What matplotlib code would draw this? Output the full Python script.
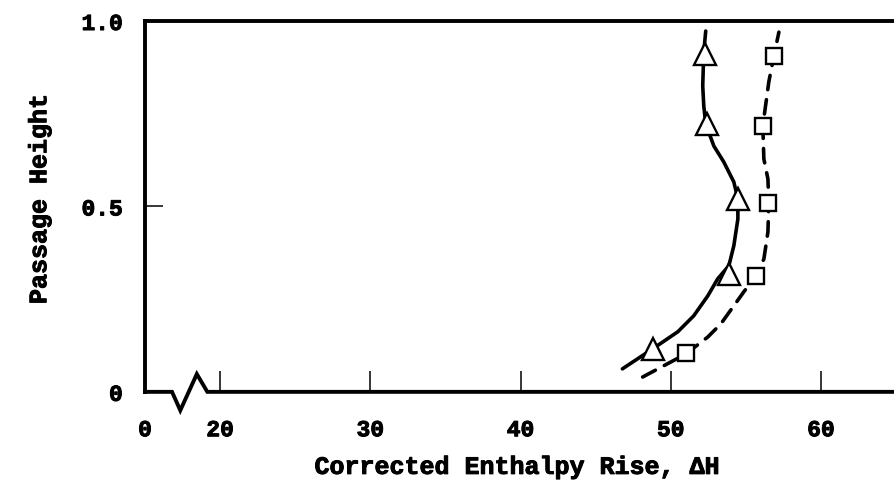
import numpy as np
import matplotlib
matplotlib.use("Agg")
import matplotlib.pyplot as plt
import matplotlib.patheffects as pe

plt.rcParams['font.family'] = ['Liberation Mono', 'DejaVu Sans Mono']
plt.rcParams['font.weight'] = 'bold'

# --- data ---
# triangles (solid curve)
tri_x = [52.3, 52.4, 54.5, 53.85, 48.8]
tri_y = [0.912, 0.722, 0.52, 0.318, 0.115]
# squares (dashed curve)
sq_x = [56.9, 56.15, 56.5, 55.7, 51.0]
sq_y = [0.906, 0.717, 0.51, 0.312, 0.104]

# faired curves through the points
solid_x = [46.78, 48.8, 50.47, 51.53, 52.47, 53.13, 53.87, 54.2, 54.47, 54.47,
           54.2, 53.53, 52.87, 52.33, 52.2, 52.13, 52.2, 52.33]
solid_y = [0.062, 0.116, 0.162, 0.205, 0.259, 0.305, 0.340, 0.394, 0.466, 0.520,
           0.566, 0.620, 0.663, 0.722, 0.771, 0.825, 0.916, 0.973]
dash_x = [48.13, 51.0, 52.47, 53.33, 54.2, 54.87, 55.67, 56.2, 56.47, 56.53,
          56.47, 56.2, 56.13, 56.53, 56.87, 57.2]
dash_y = [0.040, 0.102, 0.148, 0.183, 0.232, 0.270, 0.313, 0.358, 0.431, 0.512,
          0.574, 0.628, 0.717, 0.836, 0.906, 0.970]

xticks = [15, 20, 30, 40, 50, 60]
xticklabels = ['0', '20', '30', '40', '50', '60']
yticks = [0, 0.5, 1.0]
yticklabels = ['0', '0.5', '1.0']

fig = plt.figure(figsize=(8.95, 4.85), dpi=100)
ax = fig.add_axes([0.162, 0.19, 0.838, 0.7646])

ax.plot(solid_x, solid_y, color='black', lw=2.6, solid_capstyle='round',
        solid_joinstyle='round', zorder=2)
ax.plot(dash_x, dash_y, color='black', lw=2.6, linestyle=(0, (4, 2.8)),
        dash_capstyle='round', zorder=2)
ax.plot(tri_x, tri_y, linestyle='none', marker='^', ms=16, mfc='white',
        mec='black', mew=1.7, zorder=3)
ax.plot(sq_x, sq_y, linestyle='none', marker='s', ms=12, mfc='white',
        mec='black', mew=1.7, zorder=3)

ax.set_xlim(15, 64.93)
ax.set_ylim(0, 1.0)

# axis frame with the break in the bottom axis
for s in ['left', 'top']:
    ax.spines[s].set_linewidth(2.8)
ax.spines['right'].set_visible(False)
ax.spines['bottom'].set_visible(False)
brk_x = [15, 16.8, 17.35, 18.45, 19.15, 64.93]
brk_y = [0, 0, -0.05, 0.048, 0, 0]
ax.plot(brk_x, brk_y, color='black', lw=2.8, clip_on=False, zorder=4,
        solid_joinstyle='miter')

ax.set_xticks(xticks)
ax.set_xticklabels(xticklabels)
ax.set_yticks(yticks)
ax.set_yticklabels(yticklabels)
ax.tick_params(axis='x', direction='in', length=15, width=1.1, pad=19, labelsize=16.5)
ax.tick_params(axis='y', direction='in', length=13, width=1.1, pad=16, labelsize=16.5)

ax.set_xlabel('Corrected Enthalpy Rise, \u0394H', fontsize=18, fontweight='bold')
ax.set_ylabel('Passage Height', fontsize=18, fontweight='bold')
ax.xaxis.set_label_coords(0.496, -0.17)
ax.yaxis.set_label_coords(-0.125, 0.52)

thick = [pe.withStroke(linewidth=0.7, foreground='black')]
for t in ax.get_xticklabels() + ax.get_yticklabels() + [ax.xaxis.label, ax.yaxis.label]:
    t.set_path_effects(thick)

fig.savefig('out.png', dpi=100)
